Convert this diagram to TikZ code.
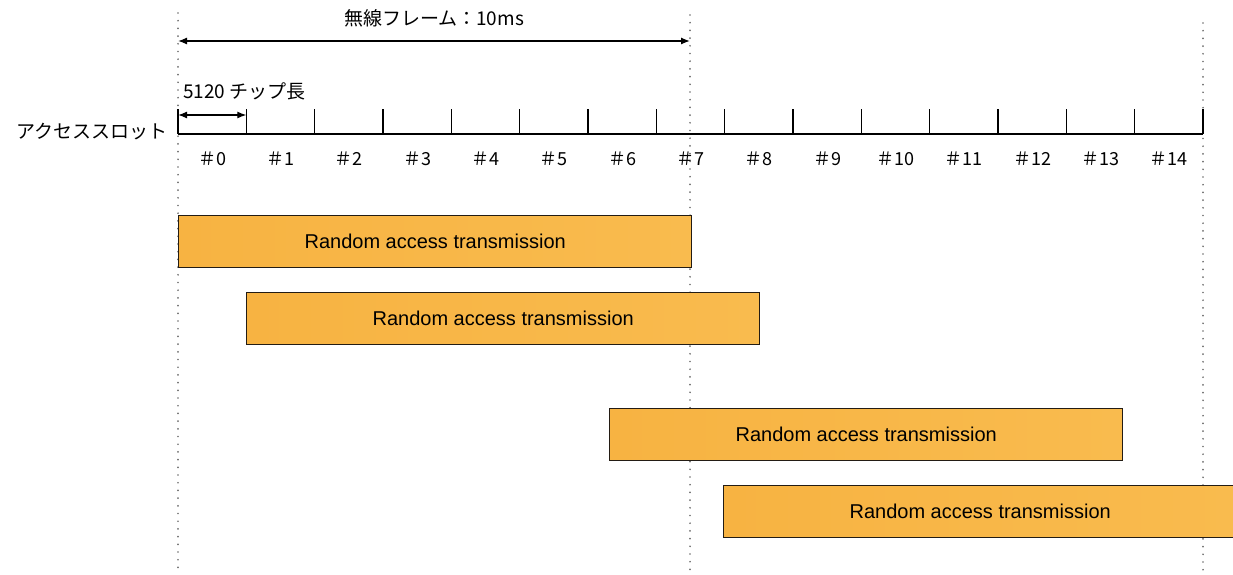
\documentclass[tikz,border=0pt]{standalone}
\usepackage{fontspec}
\setmainfont{Liberation Sans}
\newfontfamily\jpfont{Noto Sans CJK JP}
\usetikzlibrary{arrows.meta}

\definecolor{txleft}{RGB}{247,179,66}
\definecolor{txright}{RGB}{249,187,78}
\definecolor{txedge}{RGB}{35,28,20}
\definecolor{guide}{RGB}{110,110,110}

\tikzset{
  guideline/.style={guide, line width=1.9pt, line cap=round,
                    dash pattern=on 0pt off 7.7pt},
  axisline/.style={black, line width=2pt},
  tickline/.style={black, line width=1.3pt},
  span/.style={black, line width=1.3pt, {Latex[length=9pt,width=7pt]}-{Latex[length=9pt,width=7pt]}},
  jplabel/.style={font=\jpfont\fontsize{19}{22}\selectfont, inner sep=0pt},
  slotlabel/.style={font=\jpfont\fontsize{18}{21}\selectfont, inner sep=0pt},
  txbox/.style={draw=txedge, line width=1.4pt, left color=txleft, right color=txright,
                minimum width=513pt, minimum height=52pt, inner sep=0pt, anchor=north west,
                font=\fontsize{20}{24}\selectfont},
}

\begin{document}
\begin{tikzpicture}[x=1pt, y=-1pt]
  \useasboundingbox (0,0) rectangle (1233,575);
  \clip (0,0) rectangle (1233,575);
  \fill[white] (0,0) rectangle (1233,575);

  % slot boundaries: 15 slots of 68.33 units starting at x=178
  \def\slotw{68.333}
  \coordinate (ax0) at (178,134);
  \coordinate (ax15) at (1203,134);

  % dotted guides: frame start, frame end (7.5 slots) and end of slot 14
  \coordinate (g0t) at (178,13);   \coordinate (g0b) at (178,575);
  \coordinate (g1t) at (690,15);   \coordinate (g1b) at (690,575);
  \coordinate (g2t) at (1203,23);  \coordinate (g2b) at (1203,575);
  \draw[guideline] (g0t) -- (g0b);
  \draw[guideline] (g1t) -- (g1b);
  \draw[guideline] (g2t) -- (g2b);

  % radio frame length
  \coordinate (fr0) at (178,41);
  \coordinate (fr1) at (690,41);
  \draw[span] (fr0) -- (fr1);
  \node[jplabel] (frame) at (434,18) {無線フレーム：10ms};

  % access slot axis with tick marks
  \draw[axisline] (ax0) -- (ax15);
  \foreach \k in {0,...,15} {
    \coordinate (tk\k) at ({178+\k*\slotw},134);
    \coordinate (tt\k) at ({178+\k*\slotw},109);
    \draw[tickline] (tk\k) -- (tt\k);
  }
  \node[jplabel, anchor=east] (axname) at (168,132) {アクセススロット};

  % slot length
  \coordinate (sl0) at (178,115);
  \coordinate (sl1) at ({178+\slotw},115);
  \draw[span] (sl0) -- (sl1);
  \node[jplabel, anchor=west] (chips) at (183,91) {5120 チップ長};

  % slot numbers
  \foreach \k in {0,...,14} {
    \node[slotlabel] (s\k) at ({178+(\k+0.5)*\slotw},159) {＃\k};
  }

  % random access transmissions
  \node[txbox] (tx1) at (178,215) {Random access transmission};
  \node[txbox] (tx2) at (246,292) {Random access transmission};
  \node[txbox] (tx3) at (609,408) {Random access transmission};
  \node[txbox] (tx4) at (723,485) {Random access transmission};
\end{tikzpicture}
\end{document}
